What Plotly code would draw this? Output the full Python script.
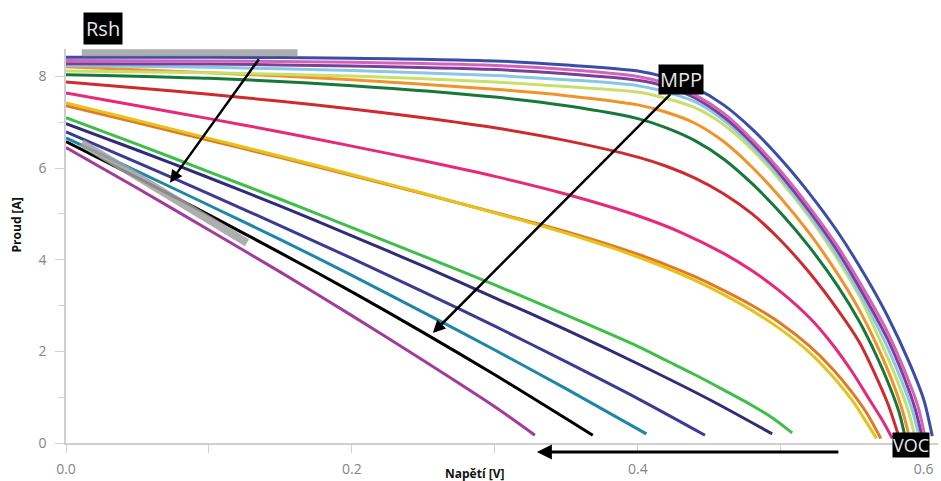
import plotly.graph_objects as go

# ---- data (voltage V, current A) ----
V_blue = [0, 0.1, 0.2, 0.3, 0.35, 0.4, 0.42, 0.44, 0.46, 0.48, 0.5, 0.52, 0.54, 0.56, 0.575, 0.59, 0.6, 0.606]
I_blue = [8.42, 8.42, 8.40, 8.34, 8.25, 8.12, 7.98, 7.75, 7.38, 6.85, 6.20, 5.45, 4.60, 3.60, 2.75, 1.75, 0.95, 0.15]

V_orchid = [0, 0.1, 0.2, 0.3, 0.35, 0.4, 0.42, 0.44, 0.46, 0.48, 0.5, 0.52, 0.54, 0.56, 0.575, 0.587, 0.596, 0.601]
I_orchid = [8.35, 8.34, 8.31, 8.24, 8.15, 8.00, 7.85, 7.60, 7.20, 6.62, 5.93, 5.15, 4.28, 3.25, 2.40, 1.55, 0.80, 0.12]

V_violet = [0, 0.1, 0.2, 0.3, 0.35, 0.4, 0.42, 0.44, 0.46, 0.48, 0.5, 0.52, 0.54, 0.56, 0.575, 0.586, 0.594, 0.599]
I_violet = [8.28, 8.27, 8.23, 8.15, 8.06, 7.92, 7.78, 7.53, 7.12, 6.55, 5.85, 5.06, 4.18, 3.12, 2.25, 1.45, 0.75, 0.12]

V_lightblue = [0, 0.1, 0.2, 0.3, 0.35, 0.4, 0.42, 0.44, 0.46, 0.48, 0.5, 0.52, 0.54, 0.56, 0.573, 0.584, 0.592, 0.597]
I_lightblue = [8.24, 8.20, 8.13, 8.02, 7.93, 7.80, 7.66, 7.45, 7.05, 6.48, 5.78, 4.98, 4.08, 3.00, 2.20, 1.40, 0.72, 0.12]

V_lime = [0, 0.1, 0.2, 0.3, 0.35, 0.4, 0.42, 0.44, 0.46, 0.48, 0.5, 0.52, 0.54, 0.555, 0.57, 0.581, 0.589, 0.594]
I_lime = [8.12, 8.08, 8.01, 7.88, 7.78, 7.66, 7.52, 7.32, 6.95, 6.40, 5.72, 4.93, 4.00, 3.20, 2.20, 1.40, 0.72, 0.12]

V_orange = [0, 0.1, 0.2, 0.3, 0.35, 0.4, 0.42, 0.44, 0.46, 0.48, 0.5, 0.52, 0.54, 0.555, 0.567, 0.578, 0.585, 0.59]
I_orange = [8.21, 8.08, 7.93, 7.72, 7.58, 7.38, 7.22, 6.98, 6.58, 6.02, 5.35, 4.58, 3.68, 2.90, 2.15, 1.35, 0.72, 0.12]

V_dkgreen = [0, 0.1, 0.2, 0.3, 0.35, 0.4, 0.42, 0.44, 0.46, 0.48, 0.5, 0.52, 0.54, 0.555, 0.567, 0.576, 0.583, 0.587]
I_dkgreen = [8.04, 7.96, 7.80, 7.55, 7.36, 7.08, 6.88, 6.60, 6.20, 5.66, 5.02, 4.28, 3.42, 2.65, 1.90, 1.25, 0.65, 0.12]

V_red = [0, 0.05, 0.1, 0.15, 0.2, 0.25, 0.3, 0.35, 0.4, 0.42, 0.44, 0.46, 0.48, 0.5, 0.52, 0.54, 0.555, 0.566, 0.575, 0.583]
I_red = [7.88, 7.75, 7.61, 7.46, 7.29, 7.10, 6.88, 6.60, 6.24, 6.04, 5.78, 5.44, 5.00, 4.42, 3.72, 2.90, 2.20, 1.50, 0.85, 0.10]

V_pink = [0, 0.05, 0.1, 0.15, 0.2, 0.25, 0.3, 0.35, 0.4, 0.43, 0.46, 0.48, 0.5, 0.52, 0.535, 0.55, 0.562, 0.571, 0.578]
I_pink = [7.64, 7.36, 7.08, 6.79, 6.48, 6.16, 5.82, 5.43, 4.96, 4.60, 4.14, 3.76, 3.30, 2.74, 2.20, 1.55, 0.95, 0.50, 0.10]

V_orange2 = [0, 0.05, 0.1, 0.15, 0.2, 0.25, 0.3, 0.32, 0.34, 0.36, 0.38, 0.4, 0.42, 0.44, 0.46, 0.48, 0.5, 0.52, 0.535, 0.55, 0.56, 0.57]
I_orange2 = [7.36, 6.99, 6.61, 6.23, 5.84, 5.44, 5.03, 4.87, 4.70, 4.52, 4.33, 4.12, 3.89, 3.63, 3.33, 3.00, 2.61, 2.12, 1.66, 1.10, 0.66, 0.10]

V_yellow = [0, 0.05, 0.1, 0.15, 0.2, 0.25, 0.3, 0.32, 0.34, 0.36, 0.38, 0.4, 0.42, 0.44, 0.46, 0.48, 0.5, 0.52, 0.535, 0.55, 0.56, 0.567]
I_yellow = [7.42, 7.04, 6.65, 6.26, 5.86, 5.45, 5.02, 4.85, 4.67, 4.48, 4.28, 4.06, 3.82, 3.55, 3.24, 2.89, 2.48, 1.98, 1.50, 0.93, 0.45, 0.10]

V_green = [0, 0.05, 0.1, 0.15, 0.2, 0.25, 0.3, 0.35, 0.4, 0.42, 0.44, 0.46, 0.48, 0.495, 0.508]
I_green = [7.10, 6.52, 5.92, 5.32, 4.70, 4.08, 3.45, 2.79, 2.11, 1.80, 1.49, 1.16, 0.82, 0.53, 0.22]

V_navy = [0, 0.05, 0.1, 0.15, 0.2, 0.25, 0.3, 0.35, 0.4, 0.45, 0.494]
I_navy = [6.97, 6.39, 5.79, 5.17, 4.52, 3.86, 3.17, 2.47, 1.73, 0.95, 0.20]

V_indigo = [0, 0.05, 0.1, 0.15, 0.2, 0.25, 0.3, 0.35, 0.4, 0.447]
I_indigo = [6.79, 6.12, 5.44, 4.74, 4.03, 3.30, 2.55, 1.77, 0.97, 0.17]

V_teal = [0, 0.05, 0.1, 0.15, 0.2, 0.25, 0.3, 0.35, 0.406]
I_teal = [6.66, 5.93, 5.19, 4.44, 3.66, 2.85, 2.03, 1.18, 0.20]

V_black = [0, 0.05, 0.1, 0.15, 0.2, 0.25, 0.3, 0.35, 0.3685]
I_black = [6.58, 5.79, 4.98, 4.15, 3.30, 2.41, 1.49, 0.53, 0.17]

V_purple = [0, 0.05, 0.1, 0.15, 0.2, 0.25, 0.3, 0.328]
I_purple = [6.45, 5.56, 4.65, 3.73, 2.78, 1.80, 0.79, 0.17]

x_ticks = [0, 0.2, 0.4, 0.6]
x_ticklabels = ["0.0", "0.2", "0.4", "0.6"]
y_ticks = [0, 2, 4, 6, 8]
y_ticklabels = ["0", "2", "4", "6", "8"]

curves = [
    (V_purple, I_purple, "#a23c9c"),
    (V_black, I_black, "#000000"),
    (V_teal, I_teal, "#1e86a6"),
    (V_indigo, I_indigo, "#3c3b92"),
    (V_navy, I_navy, "#2f2c78"),
    (V_green, I_green, "#3dbf48"),
    (V_orange2, I_orange2, "#e07a24"),
    (V_yellow, I_yellow, "#e6c21c"),
    (V_pink, I_pink, "#e8287a"),
    (V_red, I_red, "#cf2b2f"),
    (V_dkgreen, I_dkgreen, "#17783a"),
    (V_orange, I_orange, "#f29329"),
    (V_lime, I_lime, "#c9df6c"),
    (V_lightblue, I_lightblue, "#86c8e6"),
    (V_violet, I_violet, "#7c3f98"),
    (V_orchid, I_orchid, "#d563b9"),
    (V_blue, I_blue, "#3a4dab"),
]

fig = go.Figure()
for vx, iy, col in curves:
    fig.add_trace(go.Scatter(x=vx, y=iy, mode="lines",
                             line=dict(color=col, width=3, shape="spline", smoothing=0.8),
                             showlegend=False, hoverinfo="skip"))

gray = "rgba(160,160,160,0.85)"
shapes = [
    dict(type="line", xref="x", yref="y", x0=0.011, y0=8.52, x1=0.162, y1=8.52,
         line=dict(color=gray, width=7)),
    dict(type="line", xref="x", yref="y", x0=0.011, y0=6.55, x1=0.1266, y1=4.37,
         line=dict(color=gray, width=8)),
]

box_font = dict(family="Open Sans, Arial, sans-serif", size=20, color="#e6e6e6")
title_font = dict(family="Open Sans, Arial, sans-serif", size=12, color="#111")
annotations = [
    # arrows
    dict(x=0.0727, y=5.68, ax=0.1357, ay=8.41, xref="x", yref="y", axref="x", ayref="y",
         showarrow=True, arrowhead=2, arrowsize=1, arrowwidth=2.5, arrowcolor="black", text=""),
    dict(x=0.2566, y=2.40, ax=0.4238, ay=7.64, xref="x", yref="y", axref="x", ayref="y",
         showarrow=True, arrowhead=2, arrowsize=1, arrowwidth=2.5, arrowcolor="black", text=""),
    dict(x=0.540, y=-0.023, ax=303, ay=0, xref="paper", yref="paper",
         showarrow=True, arrowhead=2, arrowsize=1, arrowwidth=3, arrowcolor="black", text=""),
    # label boxes
    dict(x=0.0424, y=1.053, xref="paper", yref="paper", xanchor="center", yanchor="middle",
         text="Rsh", showarrow=False, bgcolor="black", font=box_font, borderpad=2),
    dict(x=0.4301, y=7.93, xref="x", yref="y", xanchor="center", yanchor="middle",
         text="MPP", showarrow=False, bgcolor="black", font=box_font, borderpad=1),
    dict(x=0.969, y=-0.004, xref="paper", yref="paper", xanchor="center", yanchor="middle",
         text="VOC", showarrow=False, bgcolor="black",
         font=dict(family="Open Sans, Arial, sans-serif", size=18, color="#e6e6e6"), borderpad=0),
    # axis titles
    dict(x=0.469, y=-0.078, xref="paper", yref="paper", xanchor="center", yanchor="middle",
         text="<b>Napětí [V]</b>", showarrow=False, font=title_font),
    dict(x=-0.057, y=0.553, xref="paper", yref="paper", xanchor="center", yanchor="middle",
         text="<b>Proud [A]</b>", showarrow=False, textangle=-90, font=title_font),
]

tick_font = dict(family="Open Sans, Arial, sans-serif", size=14, color="#858585")
fig.update_layout(
    width=941, height=481,
    margin=dict(l=66, r=3, t=49, b=38),
    plot_bgcolor="white", paper_bgcolor="white",
    shapes=shapes, annotations=annotations,
    xaxis=dict(range=[0, 0.61], tickvals=x_ticks, ticktext=x_ticklabels,
               showgrid=False, zeroline=False, showline=True, linecolor="#cfcfcf", linewidth=1.5,
               ticks="outside", ticklen=8, tickcolor="#cfcfcf", ticklabelstandoff=4,
               minor=dict(tickvals=[0.1, 0.3, 0.5], ticks="outside", ticklen=8, tickcolor="#cfcfcf"),
               tickfont=tick_font),
    yaxis=dict(range=[0, 8.6], tickvals=y_ticks, ticktext=y_ticklabels,
               showgrid=False, zeroline=False, showline=True, linecolor="#cfcfcf", linewidth=1.5,
               ticks="outside", ticklen=9, tickcolor="#cfcfcf", ticklabelstandoff=6,
               minor=dict(tickvals=[1, 3, 5, 7], ticks="outside", ticklen=6, tickcolor="#cfcfcf"),
               tickfont=tick_font),
)

fig.write_html("out.html")
